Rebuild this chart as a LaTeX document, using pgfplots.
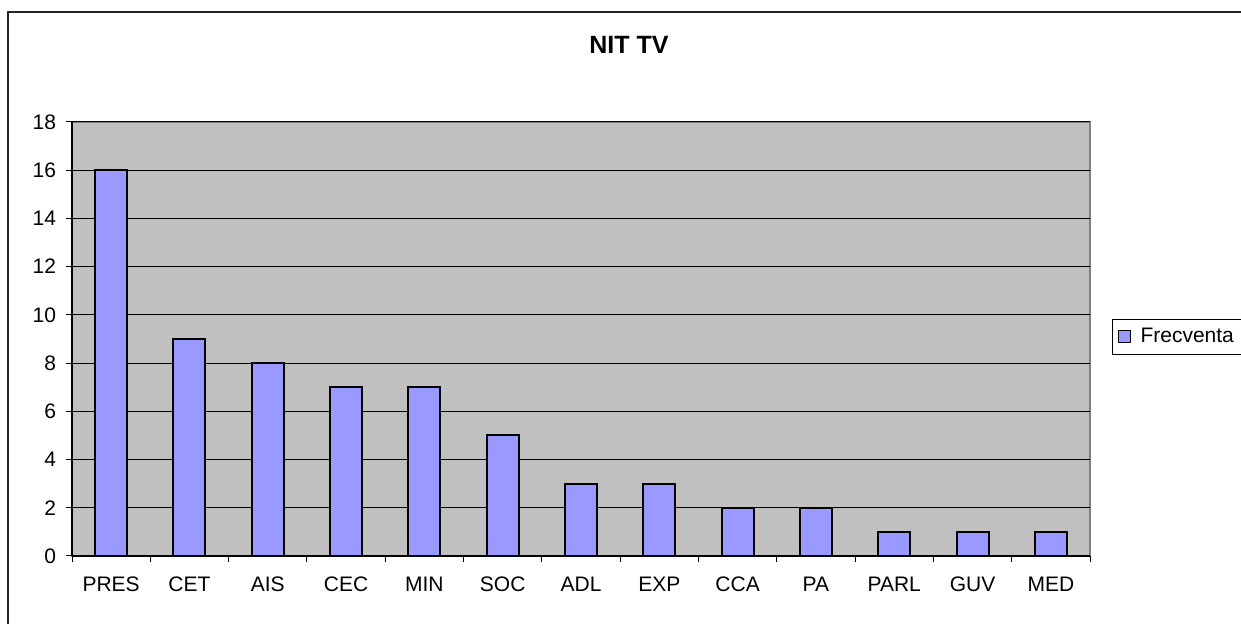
\documentclass[border=0pt]{standalone}
\usepackage{pgfplots}
\pgfplotsset{compat=1.18}
\usepackage{fontspec}
\setmainfont{Liberation Sans}

\definecolor{barblue}{HTML}{9999FF}
\definecolor{plotgray}{HTML}{C0C0C0}
\definecolor{bordergray}{HTML}{808080}

\begin{document}
\begin{tikzpicture}
% page = 1241x624 px at 0.5pt per px
\useasboundingbox (0,0) rectangle (620.5pt,312pt);
\draw[black!85, line width=0.8pt] (4pt,-5pt) -- (4pt,306pt) -- (640pt,306pt);
\node[font=\fontsize{12.5}{14}\selectfont\bfseries] at (314.5pt,289.5pt) {NIT TV};

\begin{axis}[
    at={(36pt,34pt)}, anchor=south west,
    scale only axis,
    width=509pt, height=217pt,
    ybar, bar width=16pt,
    xmin=-0.5, xmax=12.5,
    ymin=0, ymax=18,
    ytick={0,2,...,18},
    xtick={0,...,12},
    xticklabels={PRES,CET,AIS,CEC,MIN,SOC,ADL,EXP,CCA,PA,PARL,GUV,MED},
    major x tick style={draw=none},
    minor xtick={-0.5,0.5,...,12.5},
    tick align=outside,
    major tick length=3pt, minor tick length=3pt,
    tick style={black, line width=0.5pt},
    axis lines*=left,
    axis line style={black, line width=0.6pt, -},
    axis background/.style={fill=plotgray, draw=bordergray, line width=1pt},
    ymajorgrids,
    major grid style={black, line width=0.5pt},
    /pgf/number format/assume math mode=true,
    ticklabel style={font=\fontsize{10.5}{12}\selectfont},
    xticklabel style={yshift=-4pt},
    yticklabel style={xshift=-1.5pt},
    legend style={at={(1.0216,0.5046)}, anchor=west, draw=black, fill=white,
        font=\fontsize{10.5}{12}\selectfont, inner xsep=2pt, inner ysep=2.5pt,
        line width=0.5pt, legend cell align=left},
    legend image code/.code={\path[draw=none, fill=none] (-1pt,0pt) -- (9pt,0pt);
        \draw[#1, line width=0.5pt] (0pt,-3pt) rectangle (6pt,3pt);},
]
\addplot[fill=barblue, draw=black, line width=1pt] coordinates {
    (0,16) (1,9) (2,8) (3,7) (4,7) (5,5) (6,3)
    (7,3) (8,2) (9,2) (10,1) (11,1) (12,1)
};
\addlegendentry{Frecventa}
\end{axis}
\end{tikzpicture}
\end{document}
